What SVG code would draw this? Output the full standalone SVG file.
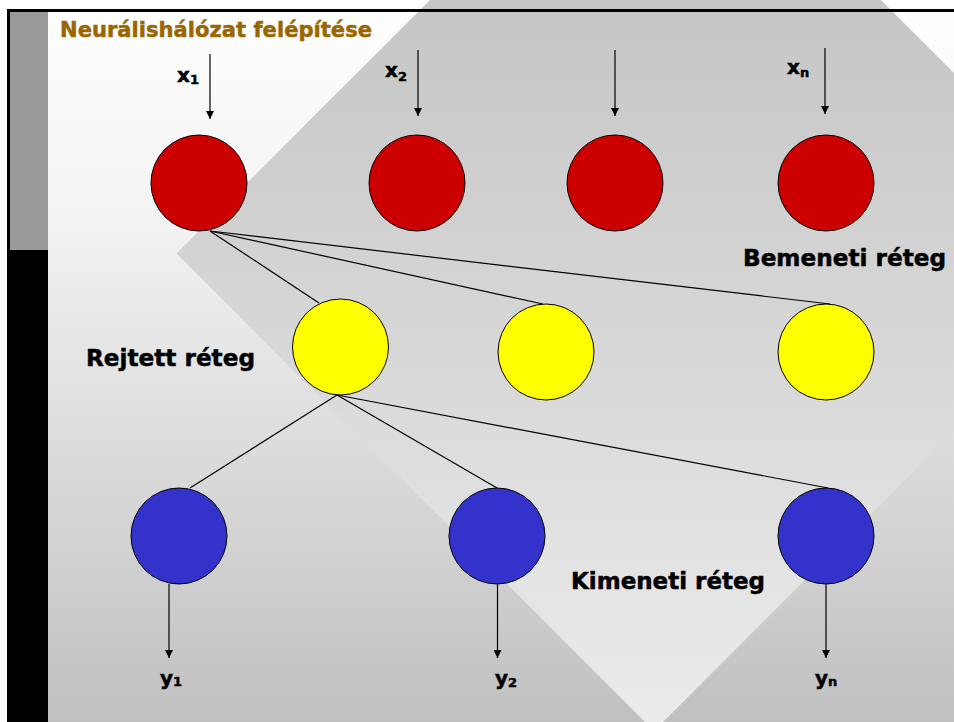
<svg xmlns="http://www.w3.org/2000/svg" width="954" height="722" viewBox="0 0 954 722">
<style>
text{font-family:"DejaVu Sans","Liberation Sans",sans-serif;font-weight:bold;fill:#000;stroke:#000;stroke-width:0.5}
.title{fill:#996600;stroke:#996600;font-size:22px}
.layer{font-size:23px}
.var{font-size:20px}
.sub{font-size:13px}
.conn{stroke:#000;stroke-width:1.2;fill:none}
.arrow{stroke:#000;stroke-width:1.2;fill:none;marker-end:url(#ah)}
.node{stroke:#000;stroke-width:1}
.red{fill:#cc0000}
.yellow{fill:#ffff00}
.blue{fill:#3333cc}
</style>
<defs>
<linearGradient id="bg" gradientUnits="userSpaceOnUse" x1="0" y1="0" x2="0" y2="722">
<stop offset="0" stop-color="#ffffff"/>
<stop offset="0.3" stop-color="#f3f3f3"/>
<stop offset="1" stop-color="#c0c0c0"/>
</linearGradient>
<linearGradient id="dia" gradientUnits="userSpaceOnUse" x1="0" y1="10" x2="0" y2="722">
<stop offset="0" stop-color="#c6c6c6"/>
<stop offset="1" stop-color="#ebebeb"/>
</linearGradient>
<marker id="ah" viewBox="0 0 8 8" refX="8" refY="4" markerWidth="8" markerHeight="8" markerUnits="userSpaceOnUse" orient="auto">
<path d="M0,0 L8,4 L0,8 Z" fill="#000"/>
</marker>
</defs>
<g id="background">
<rect x="0" y="0" width="954" height="722" fill="#ffffff"/>
<rect x="8" y="10" width="946" height="712" fill="url(#bg)"/>
<polygon points="176.5,253.5 655.5,-225.5 1133,252 654,731" fill="url(#dia)"/>
<rect x="7" y="10" width="41" height="240" fill="#999999"/>
<rect x="7" y="250" width="41" height="472" fill="#000000"/>
<line x1="7" y1="10.5" x2="954" y2="10.5" stroke="#000" stroke-width="3"/>
<line x1="8.5" y1="10" x2="8.5" y2="722" stroke="#000" stroke-width="3"/>
</g>
<text class="title" x="60" y="37" textLength="312" lengthAdjust="spacingAndGlyphs">Neurálishálózat felépítése</text>
<g id="connectors">
<line class="conn" x1="210" y1="231" x2="319" y2="303"/>
<line class="conn" x1="210" y1="231" x2="543" y2="304"/>
<line class="conn" x1="210" y1="231" x2="830" y2="304"/>
<line class="conn" x1="337" y1="395" x2="190" y2="488"/>
<line class="conn" x1="337" y1="395" x2="497" y2="488"/>
<line class="conn" x1="337" y1="395" x2="828" y2="488"/>
<line class="arrow" x1="210" y1="54" x2="210" y2="119"/>
<line class="arrow" x1="418" y1="50" x2="418" y2="116"/>
<line class="arrow" x1="615" y1="50" x2="615" y2="116"/>
<line class="arrow" x1="825" y1="48" x2="825" y2="114"/>
<line class="arrow" x1="169" y1="584" x2="169" y2="658"/>
<line class="arrow" x1="497.5" y1="584" x2="497.5" y2="658"/>
<line class="arrow" x1="826" y1="584" x2="826" y2="658"/>
</g>
<g id="in1"><circle class="node red" cx="199" cy="183" r="48"/></g>
<g id="in2"><circle class="node red" cx="417" cy="183" r="48"/></g>
<g id="in3"><circle class="node red" cx="615" cy="183" r="48"/></g>
<g id="in4"><circle class="node red" cx="826" cy="183" r="48"/></g>
<g id="hid1"><circle class="node yellow" cx="340.5" cy="347" r="48"/></g>
<g id="hid2"><circle class="node yellow" cx="546" cy="352" r="48"/></g>
<g id="hid3"><circle class="node yellow" cx="826" cy="352" r="48"/></g>
<g id="out1"><circle class="node blue" cx="179" cy="536" r="48"/></g>
<g id="out2"><circle class="node blue" cx="497" cy="536" r="48"/></g>
<g id="out3"><circle class="node blue" cx="826" cy="536" r="48"/></g>
<g id="labels">
<text x="177" y="82"><tspan class="var">x</tspan><tspan class="sub" dy="2">1</tspan></text>
<text x="385" y="77"><tspan class="var">x</tspan><tspan class="sub" dy="4">2</tspan></text>
<text x="787" y="74"><tspan class="var">x</tspan><tspan class="sub" dy="3">n</tspan></text>
<text x="160" y="685"><tspan class="var">y</tspan><tspan class="sub" dy="1">1</tspan></text>
<text x="495" y="685"><tspan class="var">y</tspan><tspan class="sub" dy="2">2</tspan></text>
<text x="815" y="685"><tspan class="var">y</tspan><tspan class="sub" dy="1">n</tspan></text>
<text class="layer" x="743" y="266" textLength="203" lengthAdjust="spacingAndGlyphs">Bemeneti réteg</text>
<text class="layer" x="86" y="366" textLength="169" lengthAdjust="spacingAndGlyphs">Rejtett réteg</text>
<text class="layer" x="571" y="589" textLength="194" lengthAdjust="spacingAndGlyphs">Kimeneti réteg</text>
</g>
</svg>
